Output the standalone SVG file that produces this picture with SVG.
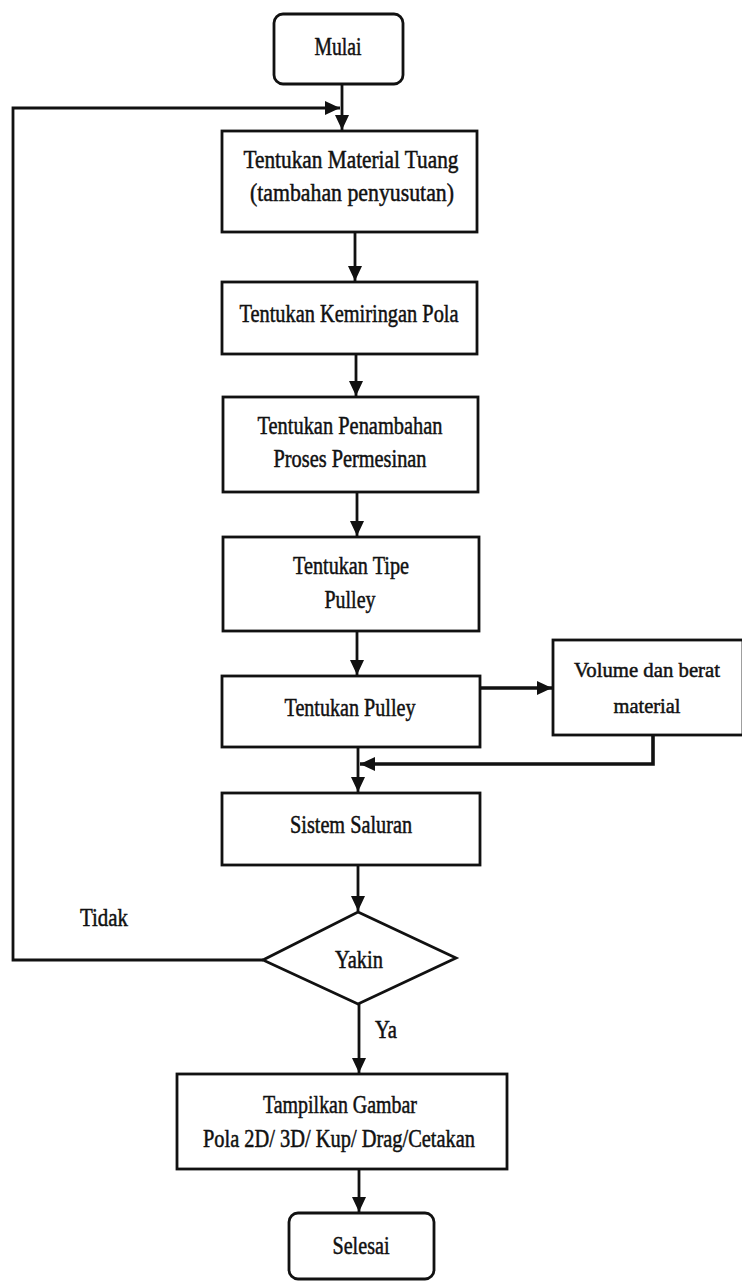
<svg xmlns="http://www.w3.org/2000/svg" width="742" height="1282" viewBox="0 0 742 1282">
<style>
.box{fill:#fff;stroke:#111;stroke-width:2.8}
.t{font-family:"Liberation Serif","Times New Roman",serif;font-size:25px;fill:#111;stroke:#111;stroke-width:0.5;text-anchor:middle}
.s{font-size:22px}
.c{fill:none;stroke:#111;stroke-width:2.8}
</style>
<defs>
<marker id="ah" markerUnits="userSpaceOnUse" markerWidth="16" markerHeight="14" refX="15" refY="7" orient="auto">
<path d="M0,0 L15,7 L0,14 Z" fill="#111"/>
</marker>
</defs>
<rect width="742" height="1282" fill="#fff"/>
<g id="connectors">
<line class="c" x1="342" y1="84" x2="342" y2="130" marker-end="url(#ah)"/>
<polyline class="c" points="263,960 13,960 13,108 340,108" marker-end="url(#ah)"/>
<line class="c" x1="355" y1="232" x2="355" y2="281" marker-end="url(#ah)"/>
<line class="c" x1="356" y1="354" x2="356" y2="396" marker-end="url(#ah)"/>
<line class="c" x1="357" y1="492" x2="357" y2="536" marker-end="url(#ah)"/>
<line class="c" x1="357" y1="631" x2="357" y2="675" marker-end="url(#ah)"/>
<line class="c" x1="480" y1="688" x2="552" y2="688" marker-end="url(#ah)" style="stroke-width:3.6"/>
<polyline class="c" points="653,735 653,764 360,764" marker-end="url(#ah)" style="stroke-width:3.6"/>
<line class="c" x1="358" y1="747" x2="358" y2="792" marker-end="url(#ah)"/>
<line class="c" x1="358" y1="865" x2="358" y2="911" marker-end="url(#ah)"/>
<line class="c" x1="359" y1="1004" x2="359" y2="1073" marker-end="url(#ah)"/>
<line class="c" x1="359" y1="1169" x2="359" y2="1212" marker-end="url(#ah)"/>
</g>
<g id="mulai"><rect class="box" x="274" y="14" width="129" height="70" rx="9"/><text class="t" x="338" y="55" textLength="47" lengthAdjust="spacingAndGlyphs">Mulai</text></g>
<g id="material"><rect class="box" x="222" y="131" width="255" height="101"/><text class="t" x="351" y="168" textLength="215" lengthAdjust="spacingAndGlyphs">Tentukan Material Tuang</text><text class="t" x="352" y="201" textLength="204" lengthAdjust="spacingAndGlyphs">(tambahan penyusutan)</text></g>
<g id="kemiringan"><rect class="box" x="222" y="282" width="255" height="72"/><text class="t" x="349" y="322" textLength="219" lengthAdjust="spacingAndGlyphs">Tentukan Kemiringan Pola</text></g>
<g id="penambahan"><rect class="box" x="223" y="397" width="255" height="95"/><text class="t" x="350" y="434" textLength="185" lengthAdjust="spacingAndGlyphs">Tentukan Penambahan</text><text class="t" x="350" y="467" textLength="153" lengthAdjust="spacingAndGlyphs">Proses Permesinan</text></g>
<g id="tipe"><rect class="box" x="223" y="537" width="256" height="94"/><text class="t" x="351" y="574" textLength="116" lengthAdjust="spacingAndGlyphs">Tentukan Tipe</text><text class="t" x="350" y="608" textLength="51" lengthAdjust="spacingAndGlyphs">Pulley</text></g>
<g id="pulley"><rect class="box" x="222" y="676" width="258" height="71"/><text class="t" x="350" y="716" textLength="131" lengthAdjust="spacingAndGlyphs">Tentukan Pulley</text></g>
<g id="volume"><rect class="box" x="553" y="640" width="190" height="95"/><text class="t s" x="647" y="677" textLength="146" lengthAdjust="spacingAndGlyphs">Volume dan berat</text><text class="t s" x="647" y="713" textLength="67" lengthAdjust="spacingAndGlyphs">material</text></g>
<g id="saluran"><rect class="box" x="222" y="793" width="258" height="72"/><text class="t" x="351" y="833" textLength="122" lengthAdjust="spacingAndGlyphs">Sistem Saluran</text></g>
<g id="yakin"><polygon class="box" points="358,912 456,958 358,1004 263,960"/><text class="t" x="359" y="968" textLength="48" lengthAdjust="spacingAndGlyphs">Yakin</text></g>
<g id="label-tidak"><text class="t" x="104" y="926" textLength="48" lengthAdjust="spacingAndGlyphs">Tidak</text></g>
<g id="label-ya"><text class="t" x="386" y="1038" textLength="22" lengthAdjust="spacingAndGlyphs">Ya</text></g>
<g id="tampilkan"><rect class="box" x="177" y="1074" width="330" height="95"/><text class="t" x="340" y="1113" textLength="154" lengthAdjust="spacingAndGlyphs">Tampilkan Gambar</text><text class="t" x="339" y="1147" textLength="272" lengthAdjust="spacingAndGlyphs">Pola 2D/ 3D/ Kup/ Drag/Cetakan</text></g>
<g id="selesai"><rect class="box" x="289" y="1213" width="145" height="66" rx="9"/><text class="t" x="361" y="1254" textLength="57" lengthAdjust="spacingAndGlyphs">Selesai</text></g>
</svg>
